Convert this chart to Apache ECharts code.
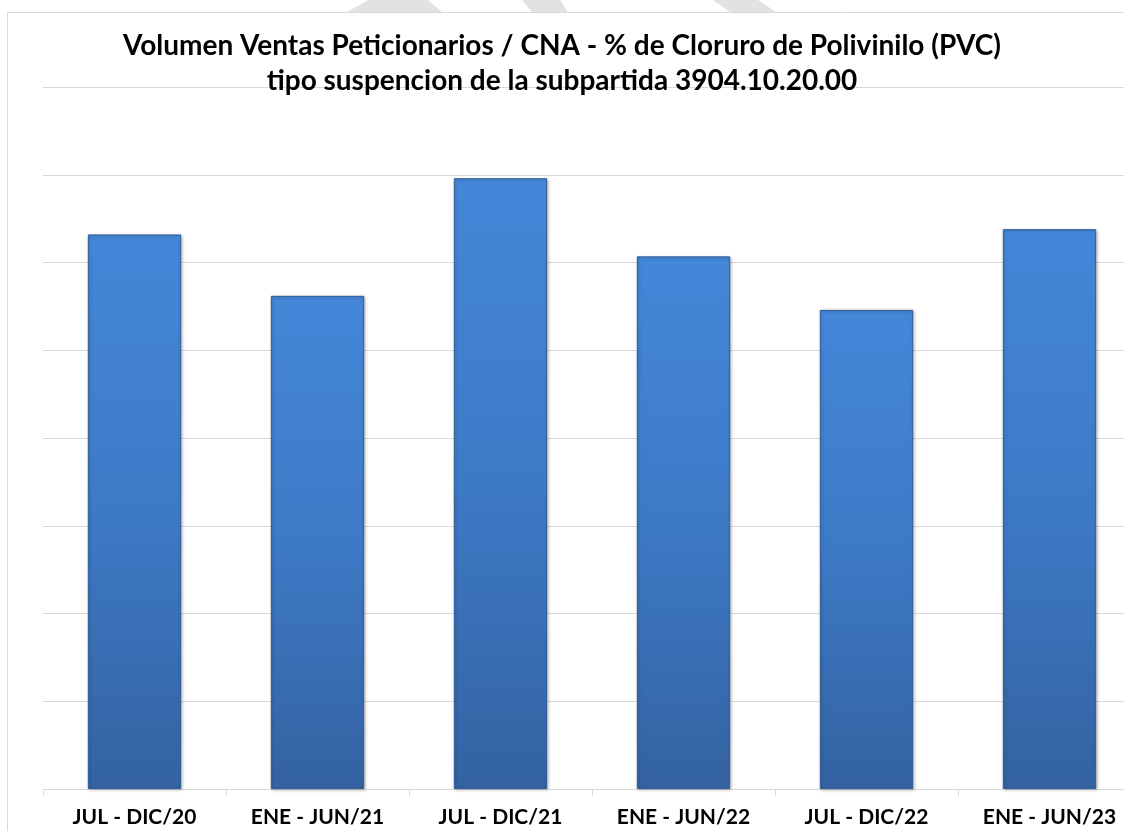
<!DOCTYPE html>
<html>
<head>
<meta charset="utf-8">
<title>Volumen Ventas Peticionarios / CNA</title>
<script src="https://cdn.jsdelivr.net/npm/echarts@6/dist/echarts.min.js"></script>
<style>
  html, body { margin: 0; padding: 0; background: #fff; }
  #chart { width: 1124px; height: 831px; }
</style>
</head>
<body>
<div id="chart"></div>
<script>
// periods on the x axis
const periods = ['JUL - DIC/20', 'ENE - JUN/21', 'JUL - DIC/21', 'ENE - JUN/22', 'JUL - DIC/22', 'ENE - JUN/23'];
// share (%), axis labels are hidden in the original
const shares = [63.2, 56.2, 69.6, 60.7, 54.6, 63.8];
const yTicks = [0, 10, 20, 30, 40, 50, 60, 70, 80];

const myChart = echarts.init(document.getElementById('chart'));
window.addEventListener('resize', function () {
  myChart.resize();
});

const font = 'Lato, "Open Sans", sans-serif';

const option = {
  backgroundColor: '#ffffff',
  animation: false,
  title: {
    text: 'Volumen Ventas Peticionarios / CNA - % de Cloruro de Polivinilo (PVC)\ntipo suspencion de la subpartida 3904.10.20.00',
    left: 'center',
    top: 23,
    textStyle: {
      fontFamily: font,
      fontWeight: 'bold',
      fontSize: 28,
      lineHeight: 35,
      color: '#000'
    }
  },
  graphic: [
    // outer chart frame
    {
      type: 'rect',
      z: -10,
      shape: { x: 7.5, y: 12.5, width: 1300, height: 1000 },
      style: { fill: 'none', stroke: '#d9d9d9', lineWidth: 1 }
    },
    // bits of the faint watermark above the frame
    {
      type: 'polygon', z: -20,
      shape: { points: [[347, 12], [368, 0], [428, 0], [442, 12]] },
      style: { fill: '#e2e2e2' }
    },
    {
      type: 'polygon', z: -20,
      shape: { points: [[522, 0], [560, 0], [568, 12], [532, 12]] },
      style: { fill: '#e2e2e2' }
    },
    {
      type: 'polygon', z: -20,
      shape: { points: [[713, 0], [758, 0], [776, 12], [730, 12]] },
      style: { fill: '#e2e2e2' }
    }
  ],
  grid: {
    left: 43,
    top: 87,
    width: 1098,
    bottom: 42,
    outerBoundsMode: 'none'
  },
  xAxis: {
    type: 'category',
    data: periods,
    axisLine: { lineStyle: { color: '#d9d9d9', width: 1 } },
    axisTick: { show: true, length: 7, lineStyle: { color: '#d9d9d9' } },
    axisLabel: {
      interval: 0,
      margin: 18,
      fontFamily: font,
      fontWeight: 'bold',
      fontSize: 21,
      color: '#000'
    }
  },
  yAxis: {
    type: 'value',
    min: yTicks[0],
    max: yTicks[yTicks.length - 1],
    interval: yTicks[1] - yTicks[0],
    axisLabel: { show: false },
    axisLine: { show: false },
    axisTick: { show: false },
    splitLine: { lineStyle: { color: '#d9d9d9', width: 1 } }
  },
  series: [
    {
      type: 'bar',
      data: shares,
      barWidth: '51%',
      itemStyle: {
        color: new echarts.graphic.LinearGradient(0, 0, 0, 1, [
          { offset: 0, color: '#4487d8' },
          { offset: 0.5, color: '#3d7ac6' },
          { offset: 1, color: '#3462a1' }
        ]),
        borderColor: '#2f5d98',
        borderWidth: 1,
        shadowColor: 'rgba(0,0,0,0.25)',
        shadowBlur: 3,
        shadowOffsetX: 1,
        shadowOffsetY: 1
      }
    }
  ]
};

option && myChart.setOption(option);
</script>
</body>
</html>
